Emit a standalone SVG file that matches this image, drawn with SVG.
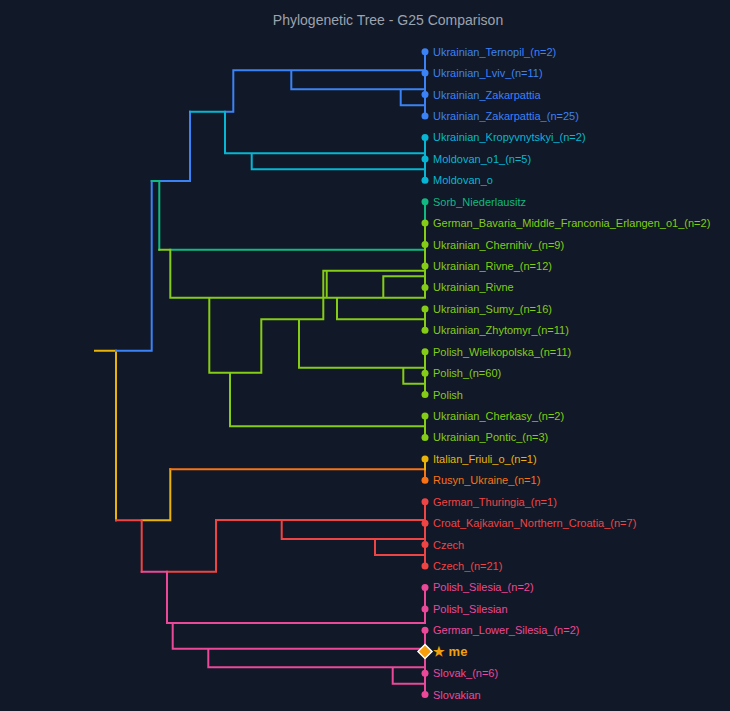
<svg xmlns="http://www.w3.org/2000/svg" width="730" height="711" viewBox="0 0 730 711">
<style>
.bg{fill:#111827}
.title{font-family:"Liberation Sans",Arial,sans-serif;font-size:14px;fill:#9ca3af;text-anchor:middle}
.lbl{font-family:"Liberation Sans",Arial,sans-serif;font-size:11px}
.e{fill:none;stroke-width:2;stroke-linecap:square;stroke-linejoin:miter}
.blue{stroke:#3b82f6}.cyan{stroke:#06b6d4}.teal{stroke:#10b981}.yg{stroke:#84cc16}
.yel{stroke:#eab308}.org{stroke:#f97316}.red{stroke:#ef4444}.pink{stroke:#ec4899}
.fblue{fill:#3b82f6}.fcyan{fill:#06b6d4}.fteal{fill:#10b981}.fyg{fill:#84cc16}
.fyel{fill:#eab308}.forg{fill:#f97316}.fred{fill:#ef4444}.fpink{fill:#ec4899}
</style>
<rect class="bg" x="0" y="0" width="730" height="711"/>
<text class="title" x="388" y="25">Phylogenetic Tree - G25 Comparison</text>
<g id="connectors">
<path class="e yel" d="M95,350.7H116 M116,350.7V520.3 M141.7,520.3H170.3V469.3"/>
<path class="e blue" d="M116,350.7H151.7V181H190V111.7 M225,111.7H233.3V70.3H425 M291.3,70.3V89.3H425 M400.7,89.3V105.3H425 M425,51.7V116"/>
<path class="e teal" d="M151.7,181H159.3V249.7 M170.3,249.7H425 M425,201.7V223.1"/>
<path class="e cyan" d="M190,111.7H225V153.3H425 M251.7,153.3V169.3H425 M425,137.4V180.3"/>
<path class="e yg" d="M159.3,249.7H170.3V297.7H425 M209.3,297.7V372.7H261.3V319.3H323.3V270.7H425 M326.7,270.7V297.7 M383.3,276.3H425 M383.3,276.3V297.7 M337,297.7V319.3H425 M299,319.3V367.7H425 M403.3,367.7V383.7H425 M230,372.7V426.3H425 M425,223.1V297.7 M425,308.9V330.3 M425,351.7V394.6 M425,416V437.4"/>
<path class="e org" d="M170.3,469.3H425 M425,469.3V480.3"/>
<path class="e yel" d="M425,458.9V469.3"/>
<path class="e red" d="M116,520.3H141.7V571.7 M167,571.7H216V520H425 M281.7,520V539H425 M375,539V555H425 M425,501.7V566"/>
<path class="e pink" d="M141.7,571.7H167V623H425 M172.7,623V648.7H425 M208.3,648.7V667.3H425 M392.7,667.3V683.7H425 M425,587.4V623 M425,630.3V694.6"/>
</g>
<g id="n0"><circle class="fblue" cx="425" cy="51.7" r="3.5"/><text class="lbl fblue" x="433" y="55.7">Ukrainian_Ternopil_(n=2)</text></g>
<g id="n1"><circle class="fblue" cx="425" cy="73.1" r="3.5"/><text class="lbl fblue" x="433" y="77.1">Ukrainian_Lviv_(n=11)</text></g>
<g id="n2"><circle class="fblue" cx="425" cy="94.6" r="3.5"/><text class="lbl fblue" x="433" y="98.6">Ukrainian_Zakarpattia</text></g>
<g id="n3"><circle class="fblue" cx="425" cy="116" r="3.5"/><text class="lbl fblue" x="433" y="120">Ukrainian_Zakarpattia_(n=25)</text></g>
<g id="n4"><circle class="fcyan" cx="425" cy="137.4" r="3.5"/><text class="lbl fcyan" x="433" y="141.4">Ukrainian_Kropyvnytskyi_(n=2)</text></g>
<g id="n5"><circle class="fcyan" cx="425" cy="158.9" r="3.5"/><text class="lbl fcyan" x="433" y="162.9">Moldovan_o1_(n=5)</text></g>
<g id="n6"><circle class="fcyan" cx="425" cy="180.3" r="3.5"/><text class="lbl fcyan" x="433" y="184.3">Moldovan_o</text></g>
<g id="n7"><circle class="fteal" cx="425" cy="201.7" r="3.5"/><text class="lbl fteal" x="433" y="205.7">Sorb_Niederlausitz</text></g>
<g id="n8"><circle class="fyg" cx="425" cy="223.1" r="3.5"/><text class="lbl fyg" x="433" y="227.1">German_Bavaria_Middle_Franconia_Erlangen_o1_(n=2)</text></g>
<g id="n9"><circle class="fyg" cx="425" cy="244.6" r="3.5"/><text class="lbl fyg" x="433" y="248.6">Ukrainian_Chernihiv_(n=9)</text></g>
<g id="n10"><circle class="fyg" cx="425" cy="266" r="3.5"/><text class="lbl fyg" x="433" y="270">Ukrainian_Rivne_(n=12)</text></g>
<g id="n11"><circle class="fyg" cx="425" cy="287.4" r="3.5"/><text class="lbl fyg" x="433" y="291.4">Ukrainian_Rivne</text></g>
<g id="n12"><circle class="fyg" cx="425" cy="308.9" r="3.5"/><text class="lbl fyg" x="433" y="312.9">Ukrainian_Sumy_(n=16)</text></g>
<g id="n13"><circle class="fyg" cx="425" cy="330.3" r="3.5"/><text class="lbl fyg" x="433" y="334.3">Ukrainian_Zhytomyr_(n=11)</text></g>
<g id="n14"><circle class="fyg" cx="425" cy="351.7" r="3.5"/><text class="lbl fyg" x="433" y="355.7">Polish_Wielkopolska_(n=11)</text></g>
<g id="n15"><circle class="fyg" cx="425" cy="373.2" r="3.5"/><text class="lbl fyg" x="433" y="377.2">Polish_(n=60)</text></g>
<g id="n16"><circle class="fyg" cx="425" cy="394.6" r="3.5"/><text class="lbl fyg" x="433" y="398.6">Polish</text></g>
<g id="n17"><circle class="fyg" cx="425" cy="416" r="3.5"/><text class="lbl fyg" x="433" y="420">Ukrainian_Cherkasy_(n=2)</text></g>
<g id="n18"><circle class="fyg" cx="425" cy="437.4" r="3.5"/><text class="lbl fyg" x="433" y="441.4">Ukrainian_Pontic_(n=3)</text></g>
<g id="n19"><circle class="fyel" cx="425" cy="458.9" r="3.5"/><text class="lbl fyel" x="433" y="462.9">Italian_Friuli_o_(n=1)</text></g>
<g id="n20"><circle class="forg" cx="425" cy="480.3" r="3.5"/><text class="lbl forg" x="433" y="484.3">Rusyn_Ukraine_(n=1)</text></g>
<g id="n21"><circle class="fred" cx="425" cy="501.7" r="3.5"/><text class="lbl fred" x="433" y="505.7">German_Thuringia_(n=1)</text></g>
<g id="n22"><circle class="fred" cx="425" cy="523.2" r="3.5"/><text class="lbl fred" x="433" y="527.2">Croat_Kajkavian_Northern_Croatia_(n=7)</text></g>
<g id="n23"><circle class="fred" cx="425" cy="544.6" r="3.5"/><text class="lbl fred" x="433" y="548.6">Czech</text></g>
<g id="n24"><circle class="fred" cx="425" cy="566" r="3.5"/><text class="lbl fred" x="433" y="570">Czech_(n=21)</text></g>
<g id="n25"><circle class="fpink" cx="425" cy="587.4" r="3.5"/><text class="lbl fpink" x="433" y="591.4">Polish_Silesia_(n=2)</text></g>
<g id="n26"><circle class="fpink" cx="425" cy="608.9" r="3.5"/><text class="lbl fpink" x="433" y="612.9">Polish_Silesian</text></g>
<g id="n27"><circle class="fpink" cx="425" cy="630.3" r="3.5"/><text class="lbl fpink" x="433" y="634.3">German_Lower_Silesia_(n=2)</text></g>
<g id="n28"><path d="M425,644.5L432,651.5L425,658.5L418,651.5Z" fill="#f59e0b" stroke="#ffffff" stroke-width="1.5"/><text x="433" y="656" font-family="'Liberation Sans',Arial,sans-serif" font-size="13" font-weight="bold" fill="#f59e0b">★ me</text></g>
<g id="n29"><circle class="fpink" cx="425" cy="673.2" r="3.5"/><text class="lbl fpink" x="433" y="677.2">Slovak_(n=6)</text></g>
<g id="n30"><circle class="fpink" cx="425" cy="694.6" r="3.5"/><text class="lbl fpink" x="433" y="698.6">Slovakian</text></g>
</svg>
